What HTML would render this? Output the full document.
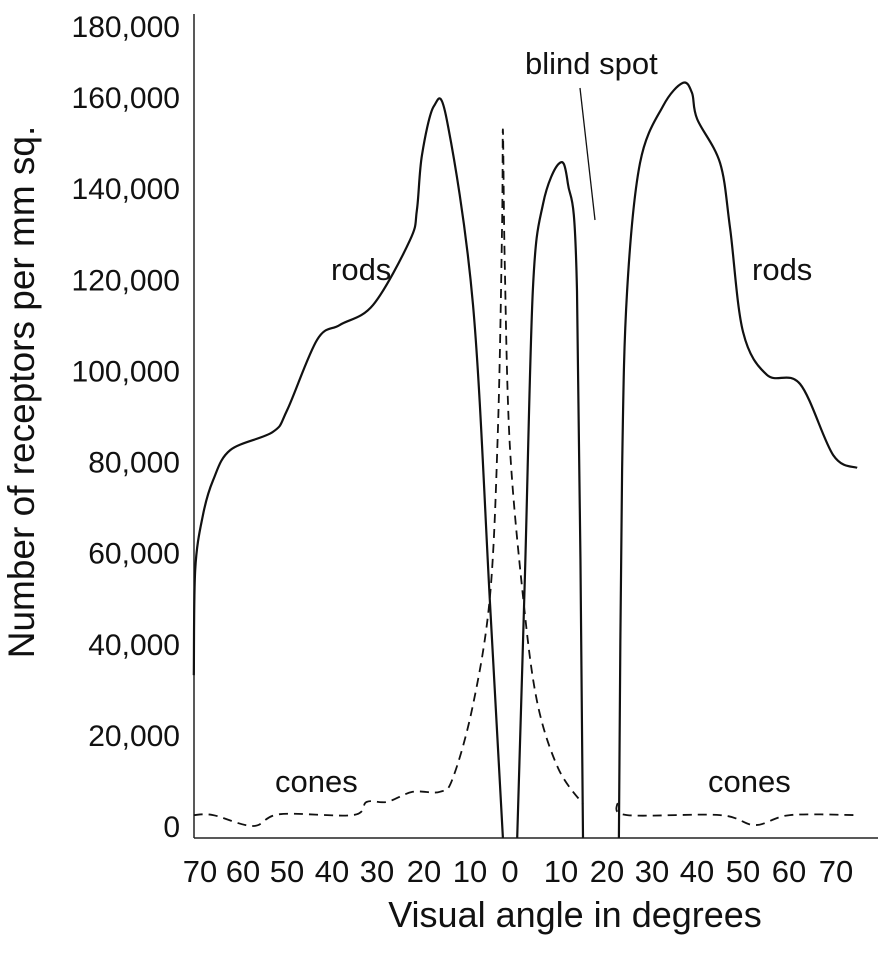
<!DOCTYPE html>
<html><head><meta charset="utf-8"><style>
body{margin:0;background:#fff;}
svg text{font-family:"Liberation Sans",Arial,sans-serif;fill:#111;}
</style></head><body>
<svg id="chart" width="890" height="948" viewBox="0 0 890 948" xmlns="http://www.w3.org/2000/svg">
<g id="axes">
<line x1="194" y1="14" x2="194" y2="838" stroke="#222" stroke-width="1.5"/>
<line x1="194" y1="838" x2="878" y2="838" stroke="#222" stroke-width="1.5"/>
</g>
<g id="yticks"></g>
<g id="xticks"></g>
<text transform="translate(34,392) rotate(-90)" text-anchor="middle" font-size="37">Number of receptors per mm sq.</text>
<text x="575" y="927" text-anchor="middle" font-size="36">Visual angle in degrees</text>
<path id="rodsLeft" fill="none" stroke="#111" stroke-width="2.2"/>
<path id="rodsCenter" fill="none" stroke="#111" stroke-width="2.2"/>
<path id="rodsRight" fill="none" stroke="#111" stroke-width="2.2"/>
<path id="conesLeft" fill="none" stroke="#111" stroke-width="1.8" stroke-dasharray="9,6"/>
<path id="conesRight" fill="none" stroke="#111" stroke-width="1.8" stroke-dasharray="9,6"/>
<line x1="580" y1="88" x2="595" y2="220" stroke="#111" stroke-width="1.3"/>
<text x="525" y="74" font-size="31">blind spot</text>
<text x="331" y="280" font-size="31">rods</text>
<text x="752" y="280" font-size="31">rods</text>
<text x="275" y="792" font-size="31">cones</text>
<text x="708" y="792" font-size="31">cones</text>
</svg>
<script>
const yTickValues=[0,20000,40000,60000,80000,100000,120000,140000,160000,180000];
const xTickLabels=["70","60","50","40","30","20","10","0","10","20","30","40","50","60","70"];
const xTickPos=[200,243,287,332,377,424,470,510,561,607,652,697,743,789,836];
// angle (deg, negative = left/temporal) and receptor density values
const rodsLeftAngle=[-68.3,-68.0,-66.3,-64.1,-60.4,-51.1,-48.0,-41.5,-36.5,-29.3,-21.3,-19.8,-18.7,-16.1,-13.3,-7.6,-3.9,-1.1];
const rodsLeftValue=[33100,56200,68300,75900,82500,86500,91300,106700,110000,114400,128600,135200,147300,158000,155000,114400,48500,-2600];
const rodsCenterAngle=[2.0,3.7,5.4,7.6,11.1,13.0,15.0,16.3];
const rodsCenterValue=[-2600,55500,117400,136500,145400,141100,117400,-2600];
const rodsRightAngle=[24.1,24.8,25.9,28.7,33.7,38.0,40.0,41.1,46.1,48.3,51.1,56.3,63.5,70.7,75.9];
const rodsRightValue=[-2600,78100,117400,145500,158000,163100,160900,155200,145500,131000,108400,99000,97000,81400,78600];
const conesLeftAngle=[-68.3,-64.1,-55.4,-49.6,-33.7,-30.7,-26.3,-20.7,-14.8,-12.0,-7.6,-3.9,-2.2,-1.3,-1.1,-0.7,0.4,3.3,6.3,10.9,16.3];
const conesLeftValue=[2400,2400,0,2600,2400,5300,5300,7500,7500,10500,26600,50700,86900,130800,152800,123100,83600,50000,27400,12700,4800];
const conesRightAngle=[23.7,25.9,46.1,53.7,61.3,75.9];
const conesRightValue=[5000,2400,2400,200,2400,2400];

function xScale(a){return 508+a*4.6;}
function yScale(v){return 826-v*(729/160000);}
function smooth(xs,ys){
  const p=xs.map((a,i)=>[xScale(a),yScale(ys[i])]);
  let d="M"+p[0][0].toFixed(1)+","+p[0][1].toFixed(1);
  for(let i=0;i<p.length-1;i++){
    const p0=p[i-1]||p[i],p1=p[i],p2=p[i+1],p3=p[i+2]||p2;
    const t=6;
    const c1=[p1[0]+(p2[0]-p0[0])/t,p1[1]+(p2[1]-p0[1])/t];
    const c2=[p2[0]-(p3[0]-p1[0])/t,p2[1]-(p3[1]-p1[1])/t];
    d+=" C"+c1.map(n=>n.toFixed(1))+" "+c2.map(n=>n.toFixed(1))+" "+p2.map(n=>n.toFixed(1));
  }
  return d;
}
document.getElementById('rodsLeft').setAttribute('d',smooth(rodsLeftAngle,rodsLeftValue));
document.getElementById('rodsCenter').setAttribute('d',smooth(rodsCenterAngle,rodsCenterValue));
document.getElementById('rodsRight').setAttribute('d',smooth(rodsRightAngle,rodsRightValue));
document.getElementById('conesLeft').setAttribute('d',smooth(conesLeftAngle,conesLeftValue));
document.getElementById('conesRight').setAttribute('d',smooth(conesRightAngle,conesRightValue));
const NS="http://www.w3.org/2000/svg";
const yg=document.getElementById('yticks');
yTickValues.forEach(v=>{
  const t=document.createElementNS(NS,'text');
  
  
  let y=Math.max(yScale(v)+11,37);
  t.setAttribute('x',180);t.setAttribute('y',y);
  t.setAttribute('text-anchor','end');t.setAttribute('font-size','30');
  t.textContent=v.toLocaleString('en-US');
  yg.appendChild(t);
});
const xg=document.getElementById('xticks');
xTickLabels.forEach((l,i)=>{
  const t=document.createElementNS(NS,'text');
  
  
  t.setAttribute('x',xTickPos[i]);t.setAttribute('y',882);
  t.setAttribute('text-anchor','middle');t.setAttribute('font-size','31');
  t.textContent=l;
  xg.appendChild(t);
});
</script>
</body></html>
